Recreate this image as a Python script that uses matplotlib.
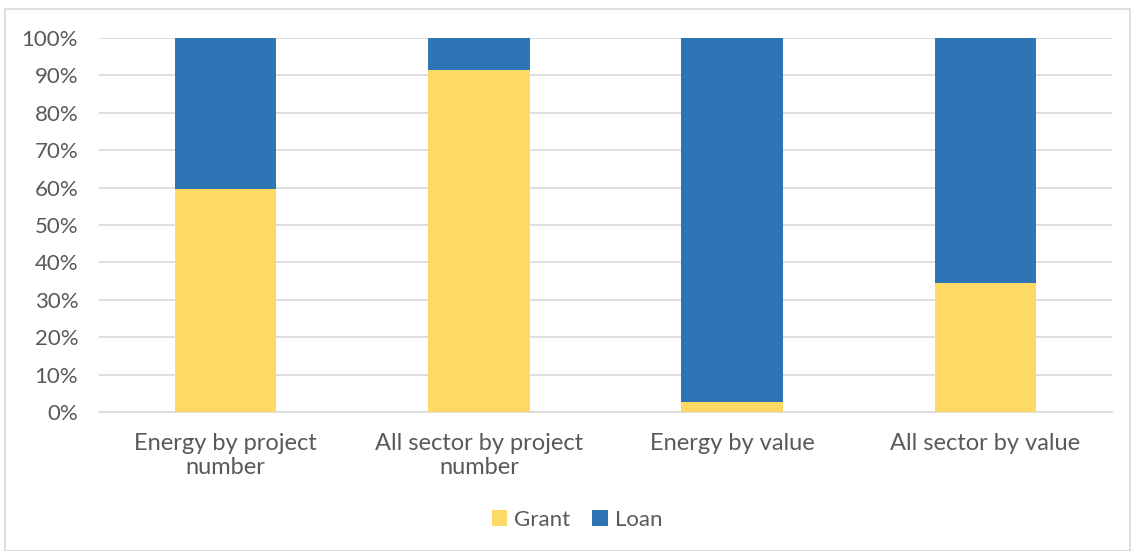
import matplotlib.pyplot as plt
from matplotlib.patches import Rectangle
from matplotlib.ticker import PercentFormatter

plt.rcParams['font.family'] = ['Lato', 'DejaVu Sans']

categories = ['Energy by project\nnumber', 'All sector by project\nnumber',
              'Energy by value', 'All sector by value']
grant = [59.6, 91.4, 2.8, 34.6]
loan = [100 - g for g in grant]

text_color = '#595959'
grant_color = '#FFD966'
loan_color = '#2E75B6'

fig = plt.figure(figsize=(11.31, 5.51), dpi=100)
fig.patches.append(Rectangle((5 / 1131, 0), 1 - 5 / 1131 - 0.001, 1 - 9 / 551,
                             transform=fig.transFigure, fill=False,
                             edgecolor='#D9D9D9', linewidth=1.2))

ax = fig.add_axes([99 / 1131, 1 - 412 / 551, (1112 - 99) / 1131, (412 - 38) / 551])
x = range(len(categories))
ax.bar(x, grant, width=0.40, color=grant_color, label='Grant', zorder=3)
ax.bar(x, loan, width=0.40, bottom=grant, color=loan_color, label='Loan', zorder=3)

ax.set_xlim(-0.5, len(categories) - 0.5)
ax.set_ylim(0, 100)
ax.set_yticks(range(0, 101, 10))
ax.yaxis.set_major_formatter(PercentFormatter(decimals=0))
ax.grid(axis='y', color='#D9D9D9', linewidth=1.2, zorder=0)
for s in ax.spines.values():
    s.set_visible(False)
ax.spines['bottom'].set_visible(True)
ax.spines['bottom'].set_color('#D9D9D9')
ax.spines['bottom'].set_linewidth(1.2)

ax.set_xticks(list(x))
ax.set_xticklabels(categories, linespacing=1.2, fontsize=17)
ax.tick_params(axis='y', labelsize=16)
ax.tick_params(axis='both', length=0, labelcolor=text_color)
ax.tick_params(axis='x', pad=15)
ax.tick_params(axis='y', pad=15)

ax.legend(loc='center', bbox_to_anchor=(577 / 1131, 1 - 520 / 551),
          bbox_transform=fig.transFigure, ncol=2, frameon=False,
          fontsize=16, labelcolor=text_color, handlelength=0.7, handleheight=0.7,
          handletextpad=0.3, columnspacing=1.0)

fig.savefig('out.png', dpi=100)
